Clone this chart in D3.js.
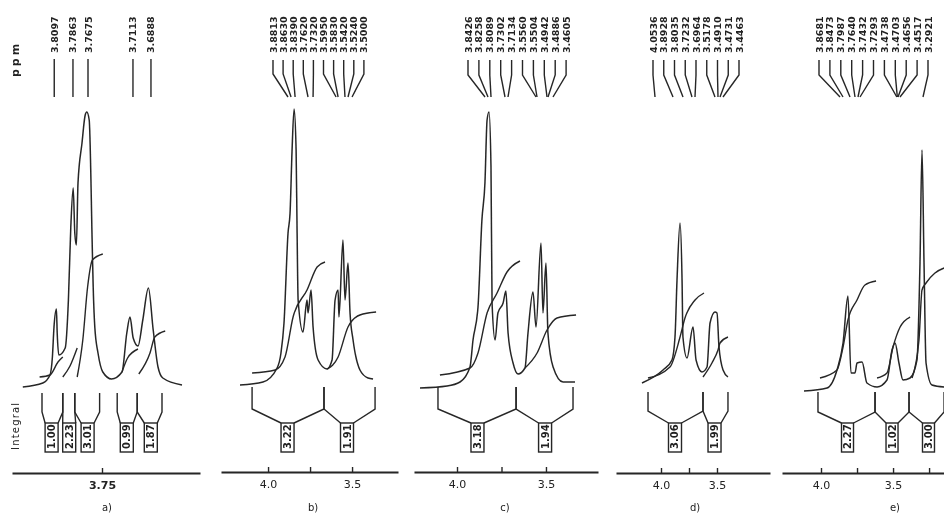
<!DOCTYPE html>
<html>
<head>
<meta charset="utf-8">
<script src="https://cdn.jsdelivr.net/npm/d3@7"></script>
<style>
  html, body { margin: 0; background: #fff; }
  text { font-family: "DejaVu Sans", sans-serif; fill: #222; }
</style>
</head>
<body>
<div id="chart"></div>
<script>
// Spectra as [ppm, intensity]
const aTrace = [[3.849,13],[3.824,17],[3.815,25],[3.812,43],[3.810,73],[3.807,91],[3.806,67],[3.804,45],[3.796,52],[3.792,100],[3.789,173],[3.786,212],[3.784,167],[3.782,155],[3.780,217],[3.775,257],[3.771,285],[3.769,288],[3.766,280],[3.762,147],[3.761,113],[3.759,73],[3.755,47],[3.749,28],[3.738,21],[3.725,28],[3.719,67],[3.715,83],[3.711,62],[3.705,54],[3.699,80],[3.692,112],[3.686,70],[3.680,33],[3.674,22],[3.650,15]];
const bTrace = [[4.167,15],[4.030,18],[3.946,32],[3.923,47],[3.905,77],[3.881,167],[3.869,187],[3.857,250],[3.845,291],[3.833,250],[3.827,167],[3.821,100],[3.792,68],[3.768,100],[3.762,87],[3.744,110],[3.732,73],[3.702,40],[3.649,31],[3.619,40],[3.601,100],[3.583,110],[3.578,83],[3.554,160],[3.542,100],[3.524,137],[3.512,87],[3.494,60],[3.453,30],[3.405,22],[3.375,21]];
const cTrace = [[4.208,12],[4.056,14],[3.983,18],[3.927,33],[3.910,60],[3.882,93],[3.860,180],[3.843,217],[3.831,280],[3.820,288],[3.809,233],[3.803,97],[3.786,60],[3.770,87],[3.741,97],[3.725,109],[3.713,67],[3.685,37],[3.657,26],[3.618,32],[3.601,67],[3.573,108],[3.556,73],[3.528,157],[3.517,87],[3.500,137],[3.489,67],[3.460,33],[3.404,18],[3.337,18]];
const dTrace = [[4.170,17],[3.982,30],[3.902,40],[3.875,63],[3.857,120],[3.830,177],[3.812,120],[3.804,63],[3.768,42],[3.714,73],[3.687,40],[3.634,28],[3.589,33],[3.562,77],[3.518,88],[3.500,87],[3.482,53],[3.446,30],[3.402,23]];
const eTrace = [[4.118,9],[3.958,12],[3.889,30],[3.847,57],[3.813,104],[3.792,27],[3.764,27],[3.750,37],[3.715,38],[3.681,17],[3.611,13],[3.542,20],[3.507,50],[3.486,57],[3.459,37],[3.431,20],[3.382,22],[3.334,40],[3.313,137],[3.299,250],[3.285,137],[3.271,37],[3.230,15],[3.146,13]];

// Integral curves
const aIntegrals = [
    [[3.828,23],[3.815,25],[3.805,38],[3.799,43]],
    [[3.799,23],[3.790,34],[3.781,52]],
    [[3.781,23],[3.774,60],[3.768,113],[3.762,140],[3.749,146]],
    [[3.725,28],[3.718,42],[3.705,51]],
    [[3.704,26],[3.690,47],[3.684,63],[3.671,69]]
];
const bIntegrals = [
    [[4.095,27],[3.958,30],[3.899,43],[3.851,83],[3.768,110],[3.708,133],[3.661,138]],
    [[3.649,31],[3.583,43],[3.524,73],[3.453,85],[3.357,88]]
];
const cIntegrals = [
    [[4.096,25],[3.927,32],[3.882,47],[3.831,87],[3.775,107],[3.719,128],[3.646,139]],
    [[3.618,32],[3.550,47],[3.494,70],[3.438,82],[3.331,85]]
];
const dIntegrals = [
    [[4.116,22],[3.920,33],[3.830,63],[3.786,82],[3.696,100],[3.616,107]],
    [[3.625,23],[3.545,37],[3.491,50],[3.473,57],[3.402,63]]
];
const eIntegrals = [
    [[4.007,22],[3.889,30],[3.847,53],[3.813,80],[3.750,100],[3.695,115],[3.618,119]],
    [[3.611,22],[3.542,27],[3.500,53],[3.451,73],[3.382,83]],
    [[3.368,22],[3.320,60],[3.299,110],[3.271,117],[3.209,127],[3.146,132]]
];

// Picked peak positions, printed along the top
const aPeaks = [3.8097, 3.7863, 3.7675, 3.7113, 3.6888];
const bPeaks = [3.8813, 3.8630, 3.8390, 3.7620, 3.7320, 3.5950, 3.5830, 3.5420, 3.5240, 3.5000];
const cPeaks = [3.8426, 3.8258, 3.8089, 3.7302, 3.7134, 3.5560, 3.5504, 3.4942, 3.4886, 3.4605];
const dPeaks = [4.0536, 3.8928, 3.8035, 3.7232, 3.6964, 3.5178, 3.4910, 3.4731, 3.4463];
const ePeaks = [3.8681, 3.8473, 3.7987, 3.7640, 3.7432, 3.7293, 3.4738, 3.4703, 3.4656, 3.4517, 3.2921];

// Integration limits, box centres and integral values
const aEdges = [[3.825,3.799],[3.799,3.784],[3.784,3.753],[3.731,3.706],[3.706,3.675]];
const aBoxes = [3.813, 3.791, 3.768, 3.719, 3.689];
const aValues = ["1.00", "2.23", "3.01", "0.99", "1.87"];
const bEdges = [[4.095,3.667],[3.667,3.363]];
const bBoxes = [3.884, 3.530];
const bValues = ["3.22", "1.91"];
const cEdges = [[4.107,3.668],[3.668,3.348]];
const cBoxes = [3.885, 3.505];
const cValues = ["3.18", "1.94"];
const dEdges = [[4.116,3.625],[3.625,3.402]];
const dBoxes = [3.875, 3.522];
const dValues = ["3.06", "1.99"];
const eEdges = [[4.021,3.625],[3.625,3.389],[3.389,3.146]];
const eBoxes = [3.816, 3.507, 3.254];
const eValues = ["2.27", "1.02", "3.00"];

// Axis ticks
const aTicks = [3.75];
const bTicks = [4.0, 3.75, 3.5];
const cTicks = [4.0, 3.75, 3.5];
const dTicks = [4.0, 3.75, 3.5];
const eTicks = [4.0, 3.75, 3.5, 3.25];
const aTickLabels = ["3.75"];
const bcdTickLabels = ["4.0", "", "3.5"];
const eTickLabels = ["4.0", "", "3.5", ""];

const svgWidth = 944;
const svgHeight = 514;

// Panel layout: axis span, first peak label and spacing between labels
const panels = [
    { name: "a)", trace: aTrace, integrals: aIntegrals, peaks: aPeaks, edges: aEdges, boxes: aBoxes, values: aValues,
      ticks: aTicks, tickLabels: aTickLabels, tickWeight: "bold", domain: [3.8625, 3.6275], range: [12, 200], axisY: 473, captionX: 107, boxW: 13, top: 393, mid: 412 },
    { name: "b)", trace: bTrace, integrals: bIntegrals, peaks: bPeaks, edges: bEdges, boxes: bBoxes, values: bValues,
      ticks: bTicks, tickLabels: bcdTickLabels, tickWeight: "normal", domain: [4.28, 3.2265], range: [221, 398], axisY: 472, captionX: 313, boxW: 13, top: 387, mid: 409,
      labelStart: 273, labelGap: 10.1, bend: 74 },
    { name: "c)", trace: cTrace, integrals: cIntegrals, peaks: cPeaks, edges: cEdges, boxes: cBoxes, values: cValues,
      ticks: cTicks, tickLabels: bcdTickLabels, tickWeight: "normal", domain: [4.2417, 3.2076], range: [414, 598], axisY: 472, captionX: 505, boxW: 13, top: 387, mid: 409,
      labelStart: 468, labelGap: 10.9, bend: 75 },
    { name: "d)", trace: dTrace, integrals: dIntegrals, peaks: dPeaks, edges: dEdges, boxes: dBoxes, values: dValues,
      ticks: dTicks, tickLabels: bcdTickLabels, tickWeight: "normal", domain: [4.4019, 3.0266], range: [616, 770], axisY: 473, captionX: 695, boxW: 13, top: 392, mid: 411,
      labelStart: 653, labelGap: 10.75, bend: 75 },
    { name: "e)", trace: eTrace, integrals: eIntegrals, peaks: ePeaks, edges: eEdges, boxes: eBoxes, values: eValues,
      ticks: eTicks, tickLabels: eTickLabels, tickWeight: "normal", domain: [4.2707, 3.0353], range: [782, 960], axisY: 473, captionX: 895, boxW: 12, top: 392, mid: 412,
      labelStart: 819, labelGap: 10.9, bend: 75 }
];

const inkColor = "#262626";

const svg = d3.select("#chart")
    .append("svg")
    .attr("width", svgWidth)
    .attr("height", svgHeight)
    .style("display", "block");

// Slight softening, the reference is a scanned figure
svg.append("defs").append("filter")
    .attr("id", "scan")
    .append("feGaussianBlur")
    .attr("stdDeviation", 0.7);

const chartGroup = svg.append("g").attr("filter", "url(#scan)");

// Every spectrum shares the one intensity scale
const yScale = d3.scaleLinear().domain([0, 300]).range([400, 100]);

panels.forEach(panel => {
    const xScale = d3.scaleLinear().domain(panel.domain).range(panel.range);
    const g = chartGroup.append("g");

    const curve = d3.line()
        .x(d => xScale(d[0]))
        .y(d => yScale(d[1]))
        .curve(d3.curveMonotoneX);

    // Spectrum
    g.append("path")
        .attr("d", curve(panel.trace))
        .attr("fill", "none")
        .attr("stroke", inkColor)
        .attr("stroke-width", 1.5);

    // Integrals
    g.selectAll(".integral")
        .data(panel.integrals)
        .join("path")
        .attr("class", "integral")
        .attr("d", curve)
        .attr("fill", "none")
        .attr("stroke", inkColor)
        .attr("stroke-width", 1.4);

    // Peak labels and their connectors
    const labelX = (d, i) => panel.labelGap ? panel.labelStart + i * panel.labelGap : xScale(d);

    g.selectAll(".connector")
        .data(panel.peaks)
        .join("path")
        .attr("class", "connector")
        .attr("d", (d, i) => {
            const lx = labelX(d, i);
            const pts = panel.bend
                ? [[lx, 60], [lx, panel.bend], [xScale(d), 97]]
                : [[lx, 59], [lx, 97]];
            return d3.line()(pts);
        })
        .attr("fill", "none")
        .attr("stroke", inkColor)
        .attr("stroke-width", 1.4);

    g.selectAll(".peak")
        .data(panel.peaks)
        .join("text")
        .attr("class", "peak")
        .attr("transform", (d, i) => `translate(${labelX(d, i) + 3.5}, 53) rotate(-90)`)
        .attr("font-size", 9.5)
        .attr("font-weight", "bold")
        .text(d => d.toFixed(4));

    // Integration brackets
    const boxTop = 423;
    const boxBottom = 452;
    panel.edges.forEach((edge, i) => {
        const cx = xScale(panel.boxes[i]);
        const left = cx - panel.boxW / 2;
        const right = cx + panel.boxW / 2;
        const bracket = d3.line();
        g.append("path")
            .attr("d", bracket([[xScale(edge[0]), panel.top], [xScale(edge[0]), panel.mid], [left, boxTop]]))
            .attr("fill", "none").attr("stroke", inkColor).attr("stroke-width", 1.4);
        g.append("path")
            .attr("d", bracket([[xScale(edge[1]), panel.top], [xScale(edge[1]), panel.mid], [right, boxTop]]))
            .attr("fill", "none").attr("stroke", inkColor).attr("stroke-width", 1.4);
        g.append("rect")
            .attr("x", left)
            .attr("y", boxTop)
            .attr("width", panel.boxW)
            .attr("height", boxBottom - boxTop)
            .attr("fill", "none")
            .attr("stroke", inkColor)
            .attr("stroke-width", 1.4);
        g.append("text")
            .attr("transform", `translate(${cx + 3.5}, ${boxBottom - 3}) rotate(-90)`)
            .attr("font-size", 10)
            .attr("font-weight", "bold")
            .text(panel.values[i]);
    });

    // Chemical shift axis
    const bottomAxis = d3.axisBottom(xScale)
        .tickValues(panel.ticks)
        .tickFormat((d, i) => panel.tickLabels[i])
        .tickSizeInner(-5)
        .tickSizeOuter(0)
        .tickPadding(8);

    const axisGroup = g.append("g")
        .attr("transform", `translate(0, ${panel.axisY})`)
        .call(bottomAxis);
    axisGroup.select(".domain").attr("stroke", inkColor).attr("stroke-width", 1.8);
    axisGroup.selectAll("line").attr("stroke", inkColor).attr("stroke-width", 1.4);
    axisGroup.selectAll("text")
        .attr("font-size", 11)
        .attr("font-weight", panel.tickWeight)
        .style("font-family", "'DejaVu Sans', sans-serif");

    // Panel caption
    g.append("text")
        .attr("x", panel.captionX)
        .attr("y", 511)
        .attr("text-anchor", "middle")
        .attr("font-size", 10)
        .text(panel.name);
});

// Side labels
chartGroup.append("text")
    .attr("transform", "translate(19, 77) rotate(-90)")
    .attr("font-size", 11)
    .attr("font-weight", "bold")
    .attr("letter-spacing", 3)
    .text("ppm");

chartGroup.append("text")
    .attr("transform", "translate(19, 450) rotate(-90)")
    .attr("font-size", 10)
    .attr("letter-spacing", 1.2)
    .text("Integral");
</script>
</body>
</html>
